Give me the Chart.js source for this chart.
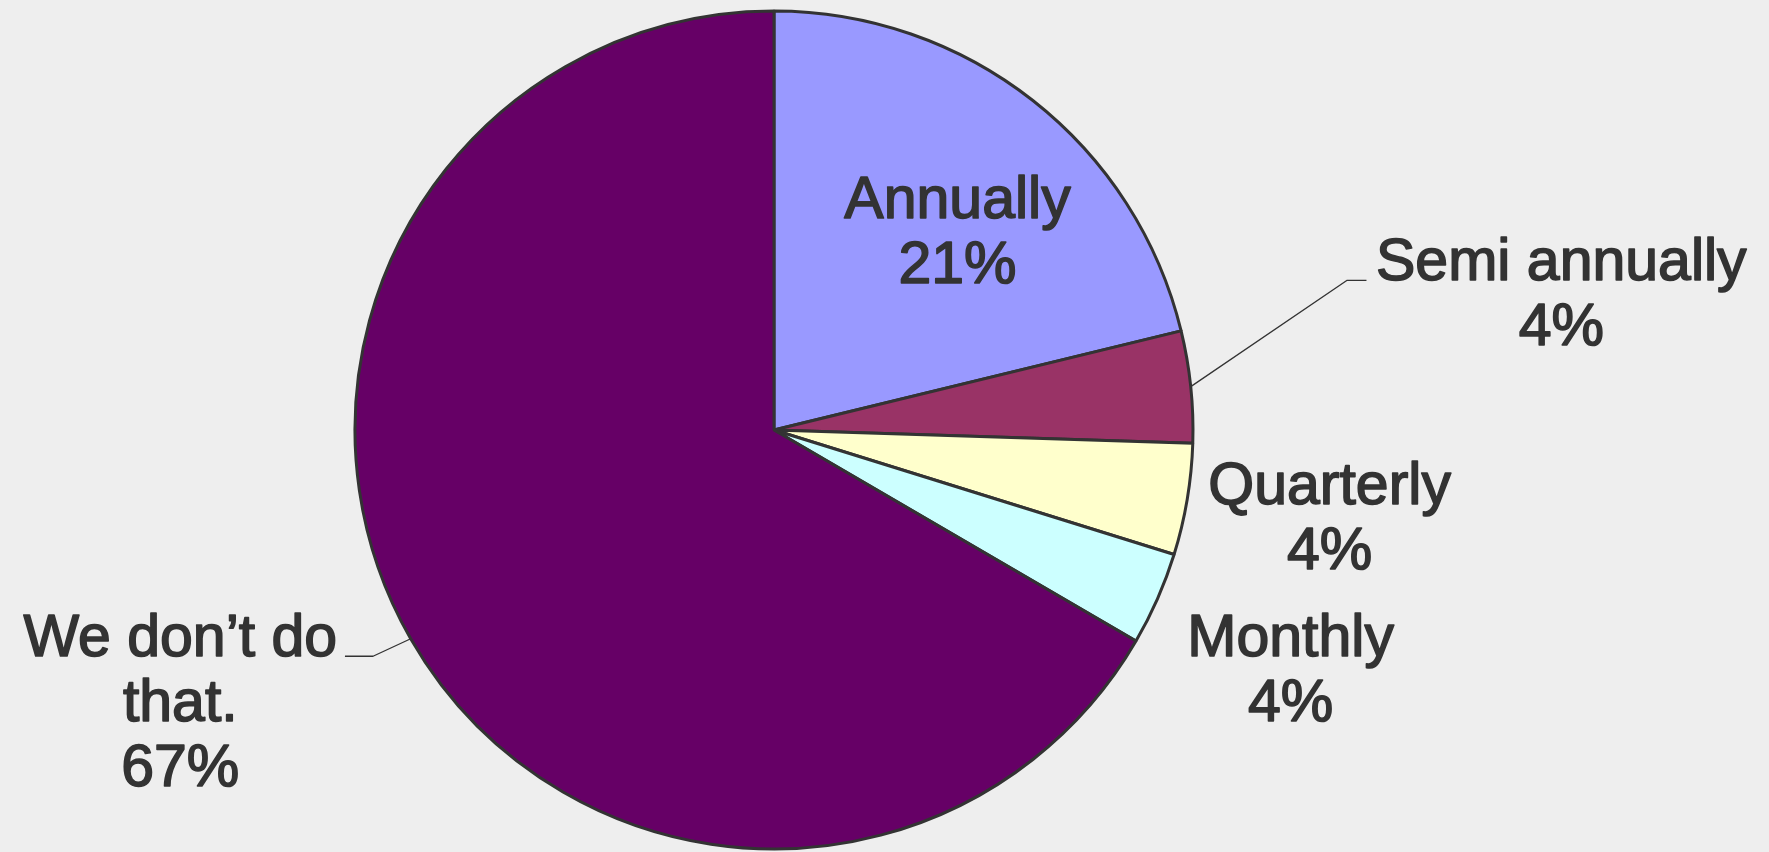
<!DOCTYPE html>
<html>
<head>
<meta charset="utf-8">
<script src="https://cdn.jsdelivr.net/npm/chart.js@4"></script>
<style>
html,body{margin:0;padding:0;background:#eeeeee;overflow:hidden;}
#wrap{width:1769px;height:852px;}
</style>
</head>
<body>
<div id="wrap"><canvas id="c" width="1769" height="852"></canvas></div>
<script>
const categories = ["Annually", "Semi annually", "Quarterly", "Monthly", "We don\u2019t do that."];
const labelLines = [["Annually"], ["Semi annually"], ["Quarterly"], ["Monthly"], ["We don\u2019t do", "that."]];
const values = [21.2, 4.3, 4.3, 3.6, 66.6];
const colors = ["#9999ff", "#993366", "#ffffcc", "#ccffff", "#660066"];

// label anchors relative to pie centre, in units of radius
const labelPos = [
  {dx: 0.438, dy: -0.505},
  {dx: 1.879, dy: -0.357, elbow: [1.367, -0.357], end: 1.414},
  {dx: 1.326, dy: 0.176},
  {dx: 1.233, dy: 0.540},
  {dx: -1.417, dy: 0.540, elbow: [-0.957, 0.540], end: -1.024}
];

const bgPlugin = {
  id: 'bg',
  beforeDraw(chart) {
    const ctx = chart.ctx;
    ctx.save();
    ctx.fillStyle = '#eeeeee';
    ctx.fillRect(0, 0, chart.width, chart.height);
    ctx.restore();
  }
};

const labelPlugin = {
  id: 'pieLabels',
  afterDatasetsDraw(chart) {
    const ctx = chart.ctx;
    const meta = chart.getDatasetMeta(0);
    const total = values.reduce((a, b) => a + b, 0);
    ctx.save();
    ctx.fillStyle = '#333333';
    ctx.strokeStyle = '#333333';
    ctx.font = '59px "Liberation Sans", Arial, sans-serif';
    ctx.textAlign = 'center';
    ctx.textBaseline = 'alphabetic';
    ctx.lineJoin = 'round';
    const lh = 65;
    meta.data.forEach((arc, i) => {
      const p = arc.getProps(['x', 'y', 'startAngle', 'endAngle', 'outerRadius'], true);
      const r = p.outerRadius;
      const lp = labelPos[i];
      const lines = labelLines[i].concat([Math.round(values[i] / total * 100) + '%']);
      const cx = p.x + lp.dx * r;
      const by = p.y + lp.dy * r;
      lines.forEach((t, k) => {
        ctx.lineWidth = 1.6;
        ctx.fillText(t, cx, by + k * lh);
        ctx.strokeText(t, cx, by + k * lh);
      });
      if (lp.elbow) {
        const mid = (p.startAngle + p.endAngle) / 2;
        ctx.lineWidth = 1.3;
        ctx.beginPath();
        ctx.moveTo(p.x + Math.cos(mid) * r, p.y + Math.sin(mid) * r);
        ctx.lineTo(p.x + lp.elbow[0] * r, p.y + lp.elbow[1] * r);
        ctx.lineTo(p.x + lp.end * r, p.y + lp.elbow[1] * r);
        ctx.stroke();
      }
    });
    ctx.restore();
  }
};

new Chart(document.getElementById('c'), {
  type: 'pie',
  data: {
    labels: categories,
    datasets: [{
      data: values,
      backgroundColor: colors,
      borderColor: '#333333',
      borderWidth: 3
    }]
  },
  options: {
    responsive: false,
    animation: false,
    radius: 419,
    layout: {padding: {left: 0, right: 221, top: 8, bottom: 0}},
    plugins: {legend: {display: false}, tooltip: {enabled: false}}
  },
  plugins: [bgPlugin, labelPlugin]
});
</script>
</body>
</html>
